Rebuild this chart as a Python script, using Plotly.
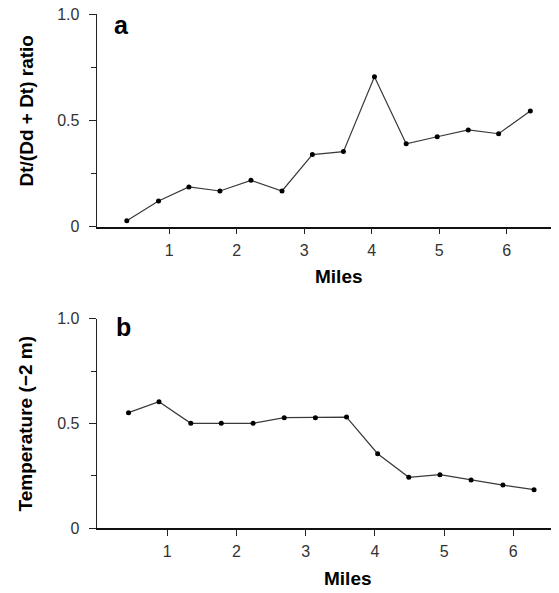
import plotly.graph_objects as go

# Panel a data
miles_a = [0.37, 0.84, 1.29, 1.75, 2.21, 2.67, 3.12, 3.58, 4.04, 4.51, 4.97, 5.43, 5.88, 6.35]
ratio_a = [0.028, 0.121, 0.187, 0.168, 0.218, 0.168, 0.339, 0.353, 0.705, 0.390, 0.423, 0.455, 0.437, 0.544]

# Panel b data
miles_b = [0.44, 0.88, 1.34, 1.78, 2.24, 2.69, 3.14, 3.59, 4.04, 4.49, 4.94, 5.39, 5.85, 6.30]
temp_b = [0.551, 0.603, 0.50, 0.50, 0.50, 0.527, 0.527, 0.530, 0.355, 0.242, 0.255, 0.229, 0.205, 0.183]

x_ticks = [1, 2, 3, 4, 5, 6]
y_ticks = [0, 0.5, 1.0]
y_tick_text = ["0", "0.5", "1.0"]

# page body adds an 8px margin; figure sized to fit the 559x593 window
OFF = 8
W, H = 559 - OFF, 593 - OFF
FONT = "Liberation Sans, Arial, Helvetica, sans-serif"
line_style = dict(color="#3a3a3a", width=1.2)
marker_style = dict(color="black", size=5)

fig = go.Figure()
fig.add_trace(go.Scatter(x=miles_a, y=ratio_a, mode="lines+markers", line=line_style,
                         marker=marker_style, xaxis="x", yaxis="y", showlegend=False))
fig.add_trace(go.Scatter(x=miles_b, y=temp_b, mode="lines+markers", line=line_style,
                         marker=marker_style, xaxis="x2", yaxis="y2", showlegend=False))

def fx(x):
    return (x - OFF) / W

def fy(y):
    return 1 - (y - OFF) / H

xdom = [fx(96.7), fx(558)]
ydom_a = [fy(226.7), fy(14)]
ydom_b = [fy(528), fy(318.7)]

def xaxis(dom, rng, anchor):
    return dict(domain=dom, range=rng, anchor=anchor, showline=True, linecolor="#111",
                linewidth=1.5, ticks="outside", ticklen=6, tickwidth=1.2, tickcolor="#222",
                tickvals=x_ticks, showgrid=False, zeroline=False, ticklabelstandoff=2,
                automargin=False, ticklabeloverflow="allow",
                tickfont=dict(family=FONT, size=16, color="#333"))

def yaxis(dom, anchor):
    return dict(domain=dom, range=[0, 1], anchor=anchor, showline=True, linecolor="#222",
                linewidth=1.2, ticks="outside", ticklen=7, tickwidth=1.2, tickcolor="#222",
                tickvals=y_ticks, ticktext=y_tick_text, showgrid=False, zeroline=False,
                ticklabelstandoff=6, automargin=False, ticklabeloverflow="allow",
                minor=dict(tickvals=[0.25, 0.75], ticks="outside", ticklen=5,
                           tickwidth=1.2, tickcolor="#222", showgrid=False),
                tickfont=dict(family=FONT, size=16, color="#333"))

fig.update_layout(
    width=W, height=H,
    margin=dict(l=0, r=0, t=0, b=0, autoexpand=False),
    plot_bgcolor="white", paper_bgcolor="white",
    xaxis=xaxis(xdom, [-0.076, 6.76], "y"),
    yaxis=yaxis(ydom_a, "x"),
    xaxis2=xaxis(xdom, [-0.02, 6.646], "y2"),
    yaxis2=yaxis(ydom_b, "x2"),
)

ann_font = dict(family=FONT, size=19, color="black")
lab_font = dict(family=FONT, size=25, color="black")

anns = [
    ("a", 121.7, 25.3, 0, lab_font),
    ("b", 123, 326.7, 0, lab_font),
    ("Miles", 339, 276.3, 0, ann_font),
    ("Miles", 347.5, 578.3, 0, ann_font),
    ("Dt/(Dd + Dt) ratio", 26, 111.5, -90, ann_font),
    ("Temperature (\u22122 m)", 24.5, 424, -90, ann_font),
]
for text, x, y, ang, f in anns:
    fig.add_annotation(text=f"<b>{text}</b>", x=fx(x), y=fy(y), xref="paper", yref="paper",
                       showarrow=False, textangle=ang, font=f, xanchor="center", yanchor="middle")

fig.write_html("out.html")
